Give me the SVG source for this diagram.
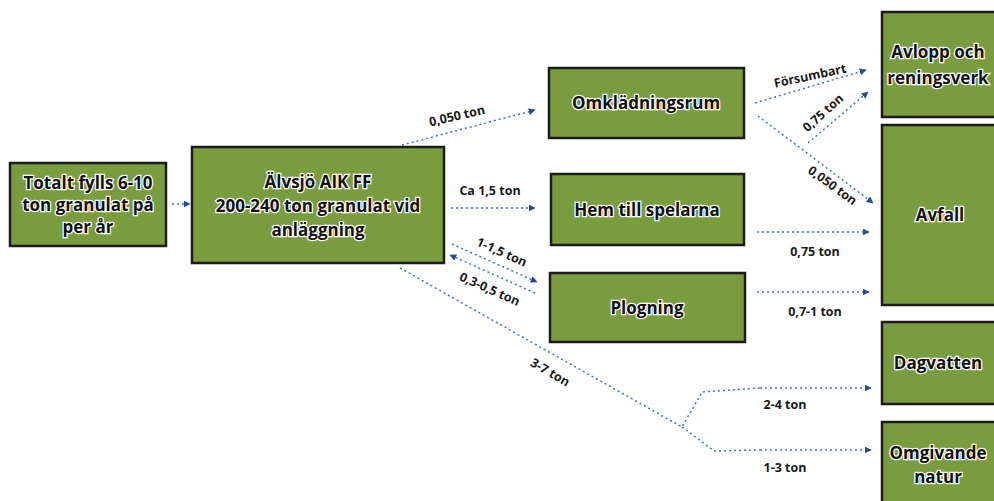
<svg xmlns="http://www.w3.org/2000/svg" width="994" height="501" viewBox="0 0 994 501">
<defs>
<marker id="ah" viewBox="0 0 10 10" refX="9" refY="5" markerWidth="7" markerHeight="7" markerUnits="userSpaceOnUse" orient="auto">
<path d="M0,0 L10,5 L0,10 z" fill="#1f4f9a"/>
</marker>
<style>
.box{fill:#789c3e;stroke:#1c1c1c;stroke-width:2.5}
.bt{font-family:"Open Sans","Liberation Sans",sans-serif;font-weight:700;font-size:17px;fill:#111;stroke:#fff;stroke-width:2.5;paint-order:stroke;text-anchor:middle}
.c{fill:none;stroke:#3f72c4;stroke-width:1.5;stroke-dasharray:2 3}
.ca{fill:none;stroke:#3f72c4;stroke-width:1.5;stroke-dasharray:2 3;marker-end:url(#ah)}
.lt{font-family:"Open Sans","Liberation Sans",sans-serif;font-weight:700;font-size:12.5px;fill:#1a1a1a;text-anchor:middle}
</style>
</defs>
<rect width="994" height="501" fill="#ffffff"/>

<g id="totalt">
<rect class="box" x="10" y="163" width="156" height="83"/>
<text class="bt" x="88" y="189">Totalt fylls 6-10</text>
<text class="bt" x="88" y="211">ton granulat på</text>
<text class="bt" x="88" y="233">per år</text>
</g>
<g id="alvsjo">
<rect class="box" x="192" y="147" width="252" height="116"/>
<text class="bt" x="318" y="188">Älvsjö AIK FF</text>
<text class="bt" x="318" y="212">200-240 ton granulat vid</text>
<text class="bt" x="318" y="236">anläggning</text>
</g>
<g id="omkladningsrum">
<rect class="box" x="549" y="68" width="195" height="70"/>
<text class="bt" x="646" y="109">Omklädningsrum</text>
</g>
<g id="hem">
<rect class="box" x="551" y="174" width="193" height="71"/>
<text class="bt" x="647" y="216">Hem till spelarna</text>
</g>
<g id="plogning">
<rect class="box" x="550" y="273" width="195" height="69"/>
<text class="bt" x="647" y="314">Plogning</text>
</g>
<g id="avlopp">
<rect class="box" x="882" y="12" width="120" height="105"/>
<text class="bt" x="938" y="58">Avlopp och</text>
<text class="bt" x="938" y="84">reningsverk</text>
</g>
<g id="avfall">
<rect class="box" x="882" y="125" width="120" height="180"/>
<text class="bt" x="940" y="221">Avfall</text>
</g>
<g id="dagvatten">
<rect class="box" x="882" y="322" width="120" height="82"/>
<text class="bt" x="938" y="369">Dagvatten</text>
</g>
<g id="omgivande">
<rect class="box" x="882" y="422" width="120" height="90"/>
<text class="bt" x="938" y="459">Omgivande</text>
<text class="bt" x="938" y="483">natur</text>
</g>

<g id="connectors">
<path class="ca" d="M172,204 L190,204"/>
<path class="ca" d="M402,145 L535,110"/>
<path class="ca" d="M451,208 L535,208"/>
<path class="ca" d="M452,244 L537,282"/>
<path class="ca" d="M535,293 L450,255"/>
<path class="c" d="M400,268 L682,427 L702,392 L760,388"/>
<path class="ca" d="M760,388 L871,388"/>
<path class="c" d="M682,427 L714,451 L760,450"/>
<path class="ca" d="M760,450 L871,450"/>
<path class="ca" d="M755,103 L866,70"/>
<path class="ca" d="M808,143 L868,92"/>
<path class="ca" d="M758,116 L873,203"/>
<path class="ca" d="M757,232 L869,232"/>
<path class="ca" d="M757,292 L869,292"/>
</g>

<g id="labels">
<text class="lt" transform="translate(458,120) rotate(-13)">0,050 ton</text>
<text class="lt" x="490" y="195">Ca 1,5 ton</text>
<text class="lt" transform="translate(500,256) rotate(24)">1-1,5 ton</text>
<text class="lt" transform="translate(488,293) rotate(24)">0,3-0,5 ton</text>
<text class="lt" transform="translate(548,376) rotate(30)">3-7 ton</text>
<text class="lt" transform="translate(811,80) rotate(-12)" font-size="11.5">Försumbart</text>
<text class="lt" transform="translate(826,116) rotate(-42)">0,75 ton</text>
<text class="lt" transform="translate(830,189) rotate(36)">0,050 ton</text>
<text class="lt" x="815" y="256">0,75 ton</text>
<text class="lt" x="815" y="316">0,7-1 ton</text>
<text class="lt" x="785" y="409">2-4 ton</text>
<text class="lt" x="785" y="472">1-3 ton</text>
</g>
</svg>
